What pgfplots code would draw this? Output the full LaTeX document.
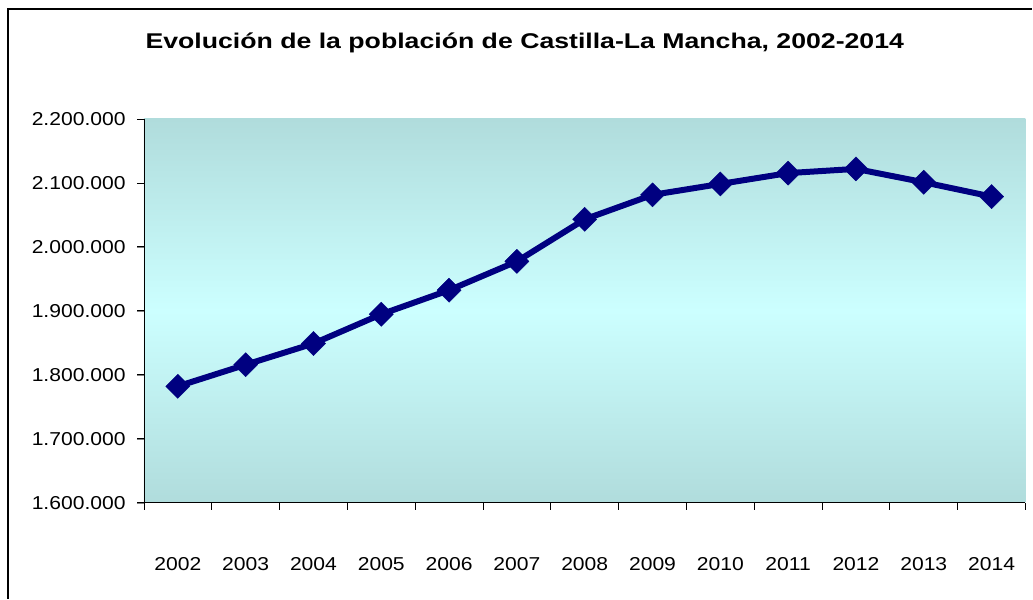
\documentclass[border=0pt]{standalone}
\usepackage{fontspec}
\setmainfont{Liberation Sans}[FakeStretch=1.13]
\newfontfamily\titlefont{Liberation Sans}[FakeStretch=1.25]
\usepackage{pgfplots}
\pgfplotsset{compat=1.18}
\definecolor{bgedge}{RGB}{176,220,220}
\definecolor{bgmid}{RGB}{204,255,255}
\definecolor{navyline}{RGB}{0,0,128}
\begin{document}
\begin{tikzpicture}
\path (0,0) rectangle (774.75pt,449.25pt);
\draw[line width=0.8pt] (6pt,0) -- (6pt,442.5pt) -- (774.75pt,442.5pt);
\node[font=\titlefont\fontsize{16}{18}\selectfont\bfseries] at (393.75pt,417pt) {Evolución de la población de Castilla-La Mancha, 2002-2014};
\begin{axis}[
  at={(108pt,72pt)}, anchor=south west,
  width=661.5pt, height=288pt, scale only axis,
  axis x line*=bottom, axis y line*=left,
  axis line style={line width=0.6pt, black},
  axis background/.style={shade, top color=bgedge, bottom color=bgedge, middle color=bgmid},
  xmin=-0.5, xmax=12.5,
  ymin=1600000, ymax=2200000,
  scaled y ticks=false,
  xtick={-0.5,0.5,...,12.5},
  xticklabels={},
  extra x ticks={0,1,2,3,4,5,6,7,8,9,10,11,12},
  extra x tick labels={2002,2003,2004,2005,2006,2007,2008,2009,2010,2011,2012,2013,2014},
  extra x tick style={major tick length=0pt, xticklabel style={anchor=center, yshift=-46pt}},
  tick align=outside,
  major tick length=5.25pt,
  xtick style={line width=0.6pt, draw=black},
  ytick={1600000,1700000,1800000,1900000,2000000,2100000,2200000},
  yticklabels={1.600.000,1.700.000,1.800.000,1.900.000,2.000.000,2.100.000,2.200.000},
  ticklabel style={font=\fontsize{14}{16}\selectfont},
  yticklabel style={anchor=east, xshift=-5pt},
  clip=false,
]
\pgfplotsinvokeforeach{1600000,1700000,1800000,1900000,2000000,2100000,2200000}{
  \draw[line width=0.6pt, black] (axis cs:-0.5,#1) -- ++(-5.25pt,0pt);
}
\addplot[navyline, line width=4.5pt, mark=square*, mark size=6.4pt,
  mark options={rotate=45, fill=navyline, draw=navyline, line width=0.3pt}]
coordinates {
(0,1782038) (1,1815781) (2,1848881) (3,1894667) (4,1932261) (5,1977304)
(6,2043100) (7,2081313) (8,2098373) (9,2115334) (10,2121888) (11,2100998) (12,2078611)
};
\end{axis}
\end{tikzpicture}
\end{document}
